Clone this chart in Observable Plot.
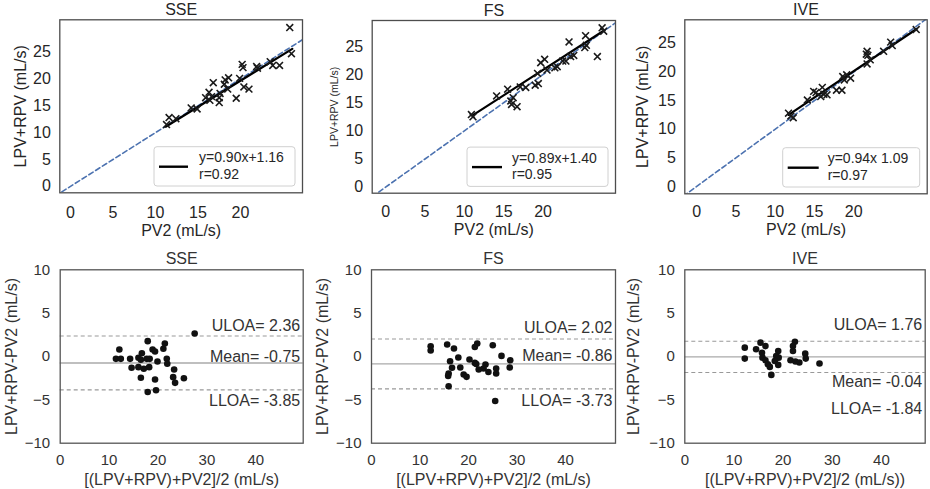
<!DOCTYPE html>
<html><head><meta charset="utf-8">
<script src="https://cdn.jsdelivr.net/npm/d3@7"></script>
<script src="https://cdn.jsdelivr.net/npm/@observablehq/plot@0.6"></script>
<style>
body{margin:0;background:#fff;}
#wrap{position:relative;width:930px;height:489px;overflow:hidden;}
#wrap svg{position:absolute;}
</style></head><body><div id="wrap"></div>
<script>
// ---------- data ----------
const panelNames = ["SSE", "FS", "IVE"];

// top row: PV2 (x) vs LPV+RPV (y)
const ssePV2 = [25.8,26.0,24.6,23.8,23.5,21.9,22.0,20.2,20.3,19.9,20.4,21.0,19.5,18.6,18.2,18.5,18.1,16.8,17.6,17.5,17.5,16.3,16.4,15.9,16.6,14.9,14.2,12.4,11.6,11.3];
const sseLR  = [29.55,24.7,22.5,22.5,23.2,22.3,22.0,22.7,22.1,20.1,18.5,18.1,16.4,20.2,19.8,18.1,19.0,19.3,17.3,16.5,15.6,17.5,16.0,16.5,16.7,14.4,14.6,12.6,12.8,11.5];
const fsPV2  = [27.5,27.7,25.4,25.5,25.3,26.9,23.3,23.9,23.5,22.9,22.5,21.8,21.5,20.2,19.7,20.5,19.3,19.4,19.0,17.8,17.1,15.5,14.1,16.2,15.9,16.0,16.7,10.9,11.1];
const fsLR   = [28.3,27.7,26.9,25.2,24.8,23.2,25.8,23.4,23.2,22.4,22.4,21.4,21.2,22.7,22.1,20.8,20.2,18.4,18.1,17.7,17.8,17.4,16.2,15.9,15.3,14.7,14.3,12.9,12.5];
const ivePV2 = [27.95,24.7,24.9,23.8,21.7,21.6,21.8,22.1,21.7,19.6,19.1,18.8,18.6,18.5,17.8,16.0,16.2,16.6,15.8,14.9,15.2,14.1,11.7,12.0,12.3];
const iveLR  = [27.4,25.2,24.6,23.6,23.6,23.1,22.9,22.1,21.4,18.9,19.5,18.6,19.2,16.8,16.8,17.3,16.1,16.0,15.7,16.6,16.4,15.1,12.8,12.3,12.0];

// fitted regression line ends (as drawn)
const fitStartX = [11.2, 11.0, 11.7];
const fitStartY = [11.1, 12.7, 12.5];
const fitEndX   = [26.1, 27.5, 28.0];
const fitEndY   = [25.6, 27.6, 27.5];
const eqLabels  = ["y=0.90x+1.16", "y=0.89x+1.40", "y=0.94x 1.09"];
const rLabels   = ["r=0.92", "r=0.95", "r=0.97"];

// bottom row: Bland-Altman mean (x) vs difference (y)
const sseAvg  = [27.5,17.9,12.1,21.4,21.1,18.9,19.4,16.7,11.4,12.4,14.3,16.0,16.5,17.7,18.3,19.9,21.8,21.9,14.6,16.0,17.1,18.2,23.3,16.5,19.4,23.1,23.5,25.3,17.9,19.6];
const sseDiff = [2.65,1.77,0.81,1.5,0.89,0.81,0.58,0.38,-0.27,-0.27,-0.27,-0.15,-0.38,-0.27,-0.27,-0.58,-0.27,-0.84,-1.3,-1.23,-1.42,-1.23,-1.5,-2.45,-2.65,-2.38,-3.04,-2.5,-4.1,-3.9];
const fsAvg   = [12.2,12.2,15.6,17.0,21.8,21.3,25.0,26.8,28.6,28.5,17.9,16.2,20.2,21.3,21.6,23.5,23.1,22.1,18.3,16.6,15.9,15.8,19.0,19.6,24.1,25.7,25.7,15.9,25.5];
const fsDiff  = [1.19,0.7,1.39,0.92,1.5,1.1,1.3,0.07,-0.43,-1.27,-0.12,-0.54,-0.35,-0.74,-0.86,-0.92,-1.39,-1.5,-1.27,-1.3,-1.96,-2.24,-2.08,-2.35,-1.78,-1.39,-1.96,-3.43,-5.13];
const iveAvg  = [12.2,12.2,14.5,15.4,16.4,15.7,15.8,16.4,16.9,17.3,17.6,19.0,18.6,19.1,18.3,19.0,22.4,22.0,22.0,21.5,22.5,23.3,24.5,24.6,27.4];
const iveDiff = [1.02,-0.24,0.83,1.6,1.2,0.44,-0.13,-0.44,-0.9,-1.2,-2.12,0.63,0.06,-0.13,-0.52,-0.97,1.7,1.2,0.63,-0.44,-0.58,-0.7,0.33,-0.24,-0.81];

const uloa     = [2.36, 2.02, 1.76];
const meanDiff = [-0.75, -0.86, -0.04];
const lloa     = [-3.85, -3.73, -1.84];

const xTicksTop = [0, 5, 10, 15, 20];
const yTicksTop = [0, 5, 10, 15, 20, 25];
const xTicksBot = [0, 10, 20, 30, 40];
const yTicksBot = [-10, -5, 0, 5, 10];

const topXLabel = "PV2 (mL/s)";
const topYLabel = "LPV+RPV (mL/s)";
const botXLabels = ["[(LPV+RPV)+PV2]/2 (mL/s)", "[(LPV+RPV)+PV2]/2 (mL/s)", "[(LPV+RPV)+PV2]/2 (mL/s))"];
const botYLabel = "LPV+RPV-PV2 (mL/s)";

// ---------- layout ----------
const FONT = "'Liberation Sans', Arial, sans-serif";
const topX = [ssePV2, fsPV2, ivePV2];
const topY = [sseLR, fsLR, iveLR];
const botX = [sseAvg, fsAvg, iveAvg];
const botY = [sseDiff, fsDiff, iveDiff];

const topLayout = [
  {left:0,   ml:59.3, mr:8,   mt:19.3, mb:52.7, xd:[-1.26,27.3], yd:[-1.2,31.0],  xpad:14, xlab:38,   ylab:39,   ylabSize:16,   lw:141, lineEnd:34},
  {left:310, ml:61.7, mr:5,   mt:20,   mb:52.3, xd:[-1.7,29.2],  yd:[-1.07,29.6], xpad:12, xlab:36.6, ylab:38,   ylabSize:10.5, lw:141, lineEnd:35},
  {left:620, ml:64.3, mr:3.3, mt:19.3, mb:51.7, xd:[-1.5,29.35], yd:[-1.28,29.1], xpad:12, xlab:36,   ylab:42.3, ylabSize:16,   lw:137, lineEnd:36}
];
const botLayout = [
  {left:0,   ml:59.7, mr:7.3, xd:[0,49.7], ylab:48, dys:[-10.5,-6.5,11]},
  {left:310, ml:61,   mr:5,   xd:[0,50.3], ylab:49, dys:[-11,-8,12]},
  {left:620, ml:64.3, mr:5.3, xd:[0,48.9], ylab:51, dys:[-16,25,36]}
];

const wrap = document.getElementById("wrap");
const fmt = d3.format("d");

function place(node, left, top) {
  const svg = node.tagName.toLowerCase() === "svg" ? node : node.querySelector("svg");
  node.style.position = "absolute";
  node.style.left = left + "px";
  node.style.top = top + "px";
  wrap.appendChild(node);
  return svg;
}

for (let i = 0; i < 3; i++) {
  const c = topLayout[i];
  const pts = topX[i].map((x, k) => ({x, y: topY[i][k]}));
  const fit = [{x: fitStartX[i], y: fitStartY[i]}, {x: fitEndX[i], y: fitEndY[i]}];
  const idLine = [{v: -5}, {v: 40}];
  const W = 310, H = 245;
  const plot = Plot.plot({
    width: W, height: H,
    marginLeft: c.ml, marginRight: c.mr, marginTop: c.mt, marginBottom: c.mb,
    x: {domain: c.xd}, y: {domain: c.yd},
    style: {fontFamily: FONT, fontSize: "16px", color: "#262626", background: "transparent", overflow: "visible"},
    marks: [
      Plot.line(idLine, {x: "v", y: "v", stroke: "#4C72B0", strokeWidth: 1.6, strokeDasharray: "5,3", clip: true}),
      Plot.line(fit, {x: "x", y: "y", stroke: "#000", strokeWidth: 2.2}),
      Plot.dot(pts, {x: "x", y: "y", symbol: "times", r: 3.2, stroke: "#1a1a1a", strokeWidth: 1.6}),
      Plot.frame({stroke: "#4d4d4d", strokeWidth: 1.3}),
      Plot.axisX({ticks: xTicksTop, tickSize: 0, tickPadding: c.xpad, label: null, tickFormat: fmt, fontSize: 16}),
      Plot.axisY({ticks: yTicksTop, tickSize: 0, tickPadding: 9, label: null, tickFormat: fmt, fontSize: 16}),
      Plot.text([panelNames[i]], {text: d => d, frameAnchor: "top", dy: -10, lineAnchor: "middle", textAnchor: "middle", fontSize: 16}),
      Plot.text([topXLabel], {text: d => d, frameAnchor: "bottom", dy: c.xlab, lineAnchor: "middle", textAnchor: "middle", fontSize: 16}),
      Plot.text([topYLabel], {text: d => d, frameAnchor: "left", dx: -c.ylab, rotate: -90, lineAnchor: "middle", textAnchor: "middle", fontSize: c.ylabSize})
    ]
  });
  const svgNode = place(plot, c.left, 0);
  // legend box
  const svg = d3.select(svgNode);
  const fx1 = W - c.mr, fy1 = H - c.mb;
  const bh = 39.3;
  const bx = fx1 - 7 - c.lw, by = fy1 - 6.3 - bh;
  const g = svg.append("g").attr("font-family", FONT).attr("font-size", 14).attr("fill", "#262626").attr("text-anchor", "start");
  g.append("rect").attr("x", bx).attr("y", by).attr("width", c.lw).attr("height", bh)
    .attr("rx", 3).attr("fill", "#fff").attr("stroke", "#d0d0d0").attr("stroke-width", 1);
  g.append("line").attr("x1", bx + 5).attr("x2", bx + c.lineEnd).attr("y1", by + 20).attr("y2", by + 20)
    .attr("stroke", "#000").attr("stroke-width", 2.4);
  g.append("text").attr("x", bx + 45).attr("y", by + 10.5).attr("dy", "0.35em").attr("text-anchor", "start").text(eqLabels[i]);
  g.append("text").attr("x", bx + 45).attr("y", by + 27).attr("dy", "0.35em").attr("text-anchor", "start").text(rLabels[i]);
}

for (let i = 0; i < 3; i++) {
  const c = botLayout[i];
  const pts = botX[i].map((x, k) => ({x, y: botY[i][k]}));
  const labels = ["ULOA= " + uloa[i].toFixed(2), "Mean= " + meanDiff[i].toFixed(2), "LLOA= " + lloa[i].toFixed(2)];
  const vals = [uloa[i], meanDiff[i], lloa[i]];
  const plot = Plot.plot({
    width: 310, height: 239,
    marginLeft: c.ml, marginRight: c.mr, marginTop: 19.3, marginBottom: 46.3,
    x: {domain: c.xd}, y: {domain: [-10, 10]},
    style: {fontFamily: FONT, fontSize: "16px", color: "#333", background: "transparent", overflow: "visible"},
    marks: [
      Plot.ruleY([uloa[i], lloa[i]], {stroke: "#999", strokeWidth: 1.1, strokeDasharray: "4,3"}),
      Plot.ruleY([meanDiff[i]], {stroke: "#aaa", strokeWidth: 1.3}),
      Plot.dot(pts, {x: "x", y: "y", r: 3.3, fill: "#111"}),
      Plot.frame({stroke: "#555", strokeWidth: 1.3}),
      Plot.axisX({ticks: xTicksBot, tickSize: 0, tickPadding: 11, label: null, tickFormat: fmt, fontSize: 15}),
      Plot.axisY({ticks: yTicksBot, tickSize: 0, tickPadding: 10, label: null, tickFormat: fmt, fontSize: 15}),
      Plot.text([panelNames[i]], {text: d => d, frameAnchor: "top", dy: -11, lineAnchor: "middle", textAnchor: "middle", fontSize: 16}),
      Plot.text([botXLabels[i]], {text: d => d, frameAnchor: "bottom", dy: 36.6, lineAnchor: "middle", textAnchor: "middle", fontSize: 16}),
      Plot.text([botYLabel], {text: d => d, frameAnchor: "left", dx: -c.ylab, rotate: -90, lineAnchor: "middle", textAnchor: "middle", fontSize: 16}),
      ...[0, 1, 2].map(j => Plot.text([vals[j]], {y: d => d, text: () => labels[j], frameAnchor: "right", dx: -3, dy: c.dys[j], textAnchor: "end", lineAnchor: "middle", fontSize: 16}))
    ]
  });
  place(plot, c.left, 250);
}
</script>
</body></html>
